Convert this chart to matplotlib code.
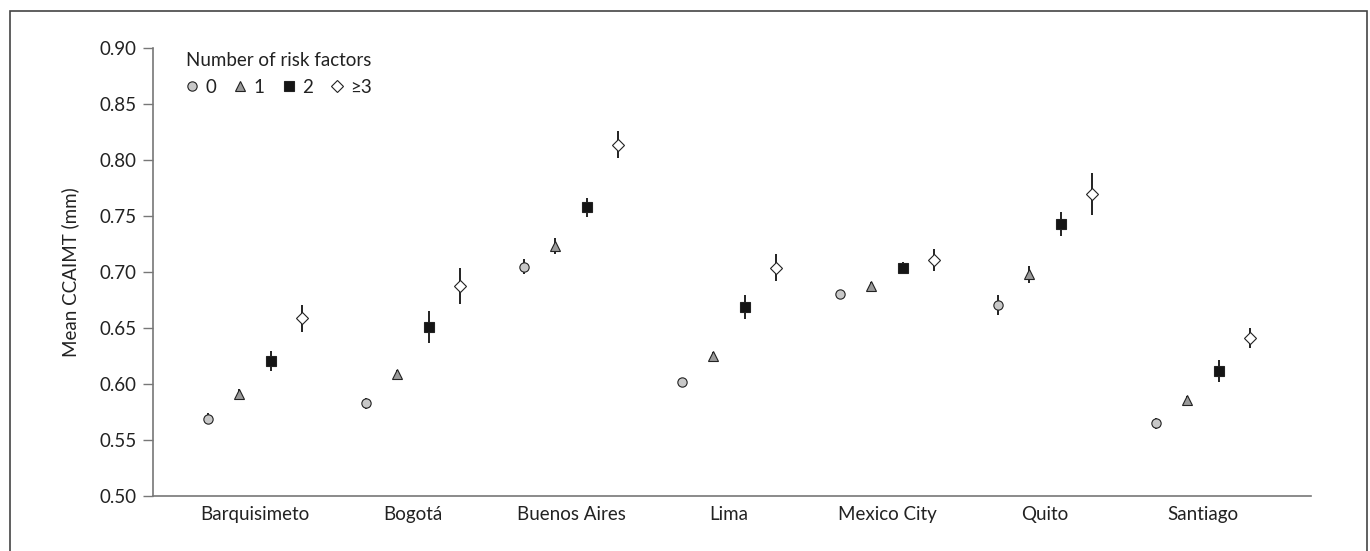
import matplotlib as mpl
mpl.use('Agg')
import matplotlib.pyplot as plt
import numpy as np
from matplotlib.patches import Rectangle

plt.rcParams['font.family'] = ['Lato', 'DejaVu Sans']
plt.rcParams['font.size'] = 13.5

cities = ['Barquisimeto', 'Bogotá', 'Buenos Aires', 'Lima', 'Mexico City', 'Quito', 'Santiago']
rf0 = [0.569, 0.583, 0.705, 0.602, 0.681, 0.671, 0.565]
err0 = [0.005, 0.005, 0.007, 0.003, 0.003, 0.009, 0.005]
rf1 = [0.591, 0.609, 0.7235, 0.625, 0.688, 0.698, 0.5855]
err1 = [0.005, 0.004, 0.007, 0.004, 0.003, 0.0075, 0.004]
rf2 = [0.621, 0.651, 0.758, 0.669, 0.704, 0.743, 0.612]
err2 = [0.009, 0.014, 0.0085, 0.0107, 0.005, 0.0107, 0.010]
rf3 = [0.659, 0.688, 0.814, 0.704, 0.711, 0.770, 0.6415]
err3 = [0.012, 0.016, 0.012, 0.012, 0.0097, 0.0186, 0.009]
labels = ['0', '1', '2', '≥3']

series = [rf0, rf1, rf2, rf3]
errs = [err0, err1, err2, err3]
offsets = [-0.3, -0.1, 0.1, 0.3]
markers = ['o', '^', 's', 'D']
sizes = [6.7, 7.7, 6.7, 6.6]
faces = ['#c8c8c8', '#9a9a9a', '#151515', 'white']

fig = plt.figure(figsize=(13.7, 5.51), dpi=100)
ax = fig.add_axes([0.1117, 0.0998, 0.9569 - 0.1117, 0.912 - 0.0998])

x = np.arange(len(cities))
for vals, e, off, m, s, fc, lab in zip(series, errs, offsets, markers, sizes, faces, labels):
    ax.errorbar(x + off, vals, yerr=e, fmt='none', ecolor='#111111',
                elinewidth=1.3, capsize=0, zorder=2)
    ax.plot(x + off, vals, linestyle='none', marker=m, markersize=s,
            markerfacecolor=fc, markeredgecolor='#222222', markeredgewidth=0.8,
            zorder=3, label=lab)

ax.set_xlim(-0.6456, 6.684)
ax.set_ylim(0.50, 0.90)
ax.set_yticks(np.arange(0.50, 0.901, 0.05))
ax.set_yticklabels(['%.2f' % v for v in np.arange(0.50, 0.901, 0.05)])
ax.set_xticks(x)
ax.set_xticklabels(cities)
ax.tick_params(axis='x', length=0, pad=7, colors='#222222')
ax.tick_params(axis='y', length=7, width=1, color='#777777', pad=5, labelcolor='#222222')
for side in ['top', 'right']:
    ax.spines[side].set_visible(False)
for side in ['left', 'bottom']:
    ax.spines[side].set_color('#777777')
    ax.spines[side].set_linewidth(1.2)

ax.set_ylabel('Mean CCAIMT (mm)', color='#222222')
ax.yaxis.set_label_coords(-0.064, 0.5)

leg = ax.legend(title='Number of risk factors', ncol=4, loc='upper left',
                bbox_to_anchor=(0.02, 1.012), frameon=False, borderpad=0,
                handlelength=0.7, handletextpad=0.35, columnspacing=0.95,
                alignment='left', labelspacing=0.5)
leg.get_title().set_color('#222222')
for t in leg.get_texts():
    t.set_color('#222222')

fig.patches.append(Rectangle((10 / 1370, -0.05), 1357 / 1370, 1.05 - 11.5 / 551,
                             transform=fig.transFigure, fill=False,
                             edgecolor='#444444', linewidth=1.2))

fig.savefig('out.png', dpi=100)
